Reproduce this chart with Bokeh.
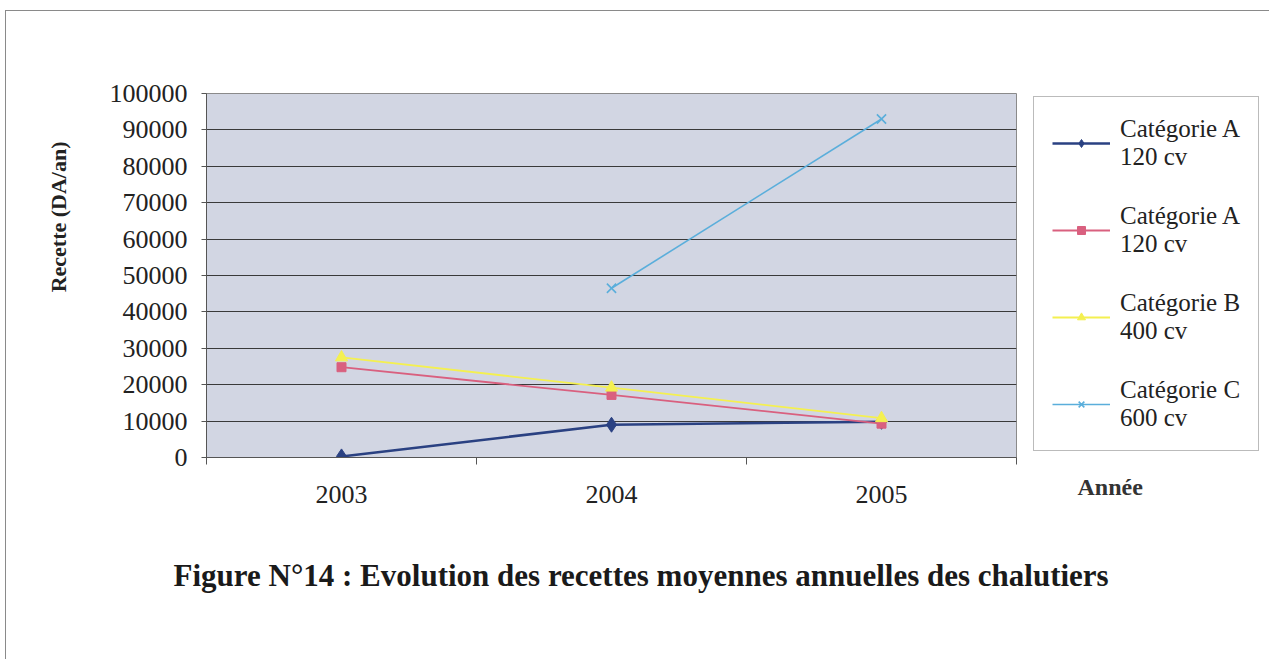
import math
from bokeh.plotting import figure
from bokeh.models import FixedTicker, Legend, LegendItem, Range1d, Title
from bokeh.embed import file_html
from bokeh.resources import INLINE

# Annual average revenue of trawlers by category (DA/an)
years = ["2003", "2004", "2005"]
cat_a1 = [300, 9000, 9800]
cat_a2 = [24800, 17200, 9300]
cat_b = [27500, 19200, 10800]
cat_c = [float("nan"), 46500, 93000]

series_labels = ["Catégorie A\n120 cv", "Catégorie A\n120 cv",
                 "Catégorie B\n400 cv", "Catégorie C\n600 cv"]
y_ticks = list(range(0, 100001, 10000))

FONT = "Liberation Serif"
TXT = "#222222"

x = [i + 0.5 for i in range(len(years))]

p = figure(frame_width=810, frame_height=364,
           min_border_left=200, min_border_right=254,
           min_border_top=82, min_border_bottom=203,
           x_range=Range1d(0, len(years)), y_range=Range1d(0, 100000),
           output_backend="svg", toolbar_location=None,
           background_fill_color="#d2d6e3", border_fill_color="white")
p.margin = (10, 0, 0, 5)
p.styles = {"border-top": "1px solid #8a8a8a", "border-left": "1px solid #8a8a8a"}

p.outline_line_color = "#8a8a8a"
p.outline_line_width = 1

# y axis
p.yaxis.ticker = FixedTicker(ticks=y_ticks)
p.yaxis.formatter.use_scientific = False
p.yaxis.major_label_text_font = FONT
p.yaxis.major_label_text_font_size = "26px"
p.yaxis.major_label_text_color = TXT
p.yaxis.major_tick_out = 5
p.yaxis.major_tick_in = 0
p.yaxis.minor_tick_line_color = None
p.yaxis.major_label_standoff = 14
p.yaxis.axis_line_color = "#555555"
p.yaxis.major_tick_line_color = "#555555"

# x axis: labels centred on each year, ticks on the boundaries
p.xaxis.ticker = FixedTicker(ticks=x, minor_ticks=list(range(len(years) + 1)))
p.xaxis.major_label_overrides = {xi: y for xi, y in zip(x, years)}
p.xaxis.major_label_text_font = FONT
p.xaxis.major_label_text_font_size = "26px"
p.xaxis.major_label_text_color = TXT
p.xaxis.major_tick_out = 0
p.xaxis.major_tick_in = 0
p.xaxis.minor_tick_out = 7
p.xaxis.minor_tick_in = 0
p.xaxis.minor_tick_line_color = "#555555"
p.xaxis.major_label_standoff = 21
p.xaxis.axis_line_color = "#555555"

p.xgrid.grid_line_color = None
p.ygrid.ticker = FixedTicker(ticks=y_ticks)
p.ygrid.grid_line_color = "#3a3a3a"
p.ygrid.grid_line_width = 1

# series
c1, c2, c3, c4 = "#2a4182", "#d9607f", "#f4f050", "#5aaedb"
l1 = p.line(x, cat_a1, line_color=c1, line_width=2.5)
m1 = p.scatter(x, cat_a1, marker="diamond", size=15, fill_color=c1, line_color=c1)
l2 = p.line(x, cat_a2, line_color=c2, line_width=1.8)
m2 = p.scatter(x, cat_a2, marker="square", size=9, fill_color=c2, line_color=c2)
l3 = p.line(x, cat_b, line_color=c3, line_width=1.8)
m3 = p.scatter(x, cat_b, marker="triangle", size=12, fill_color=c3, line_color=c3)
l4 = p.line(x, cat_c, line_color=c4, line_width=1.6)
m4 = p.scatter(x, cat_c, marker="x", size=13, line_color=c4, line_width=1.6)

legend = Legend(items=[
    LegendItem(label=series_labels[0], renderers=[l1, m1]),
    LegendItem(label=series_labels[1], renderers=[l2, m2]),
    LegendItem(label=series_labels[2], renderers=[l3, m3]),
    LegendItem(label=series_labels[3], renderers=[l4, m4]),
], location=(17, 6))
legend.label_text_font = FONT
legend.label_text_font_size = "25px"
legend.label_text_color = TXT
legend.glyph_width = 58
legend.spacing = 31
legend.padding = 18
legend.label_standoff = 10
legend.border_line_color = "#777777"
legend.background_fill_color = "white"
legend.background_fill_alpha = 1
p.add_layout(legend, "right")

# axis titles and figure caption
p.add_layout(Title(text="Recette (DA/an)", align="right", offset=48, standoff=72,
                   text_font=FONT, text_font_style="bold",
                   text_font_size="22px", text_color=TXT), "left")
p.add_layout(Title(text="Année", align="left", offset=871, standoff=-64,
                   vertical_align="top",
                   text_font=FONT, text_font_style="bold",
                   text_font_size="24px", text_color="#333333"), "below")
p.add_layout(Title(text="Figure N°14 : Evolution des recettes moyennes annuelles des chalutiers",
                   align="left", offset=-33, standoff=100,
                   text_font=FONT, text_font_style="bold",
                   text_font_size="31px", text_color="#1a1a1a"), "below")

open("out.html", "w").write(file_html(p, INLINE))
